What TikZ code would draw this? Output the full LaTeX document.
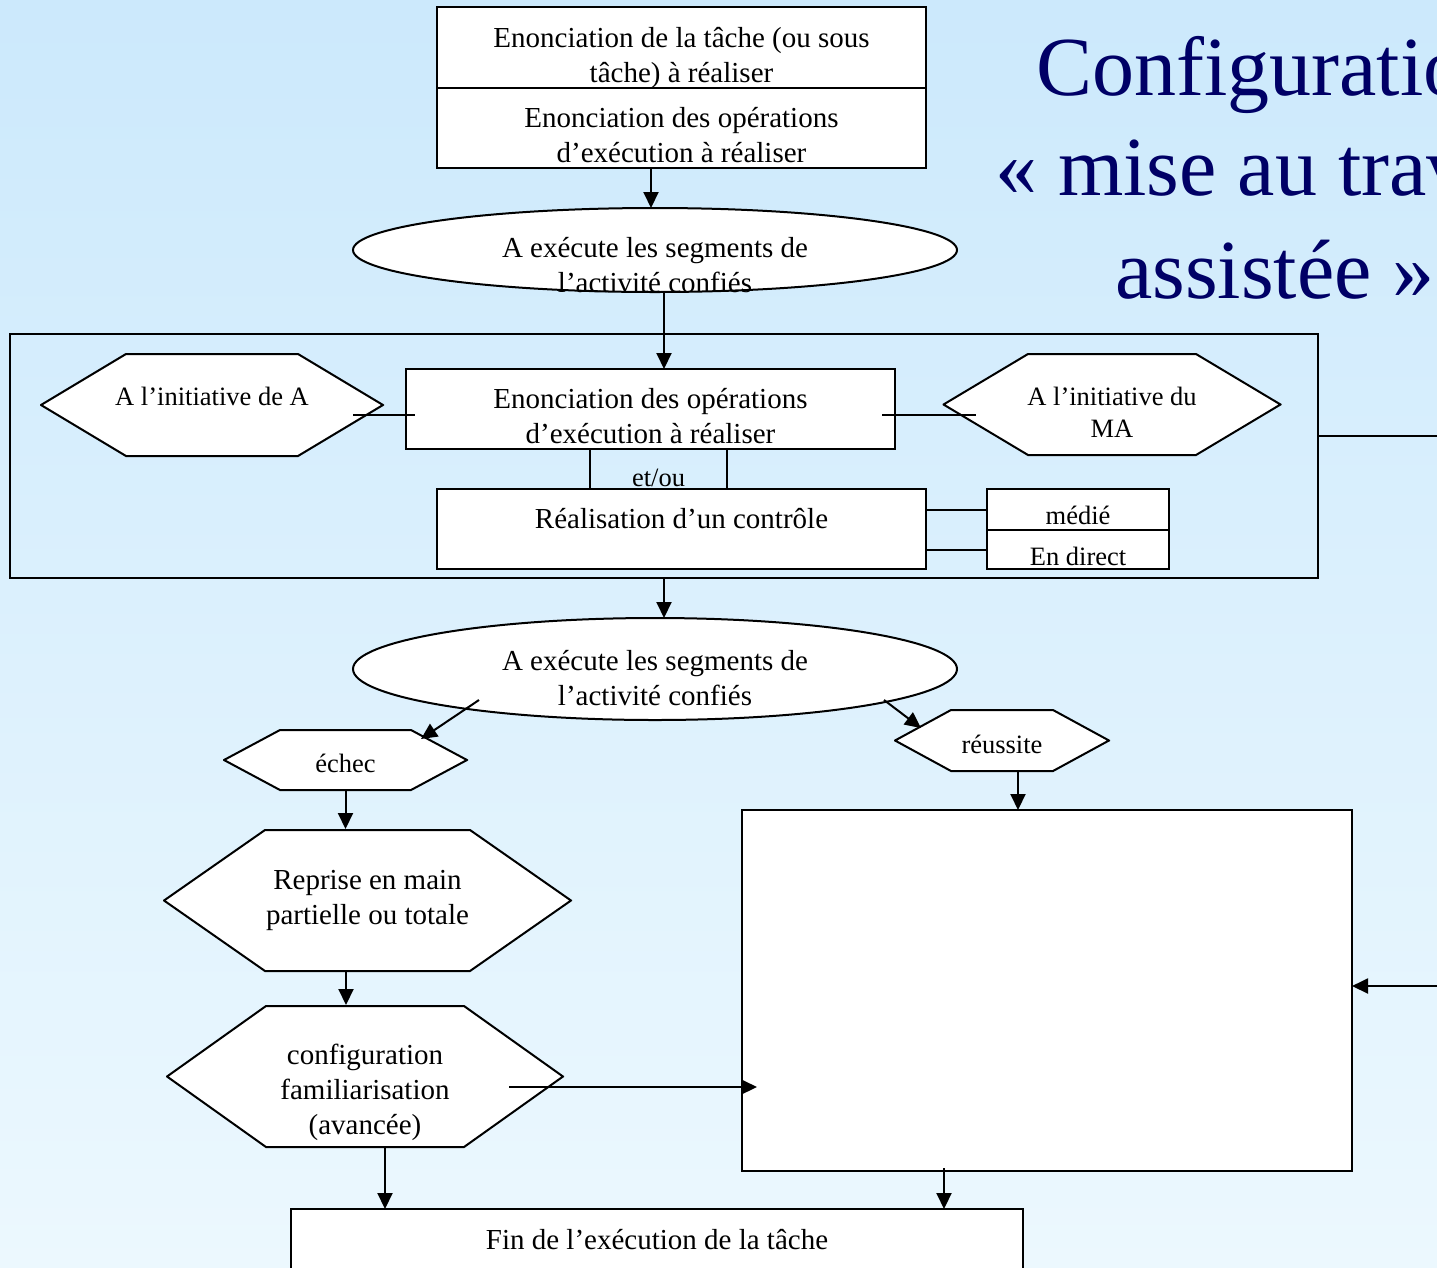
\documentclass[tikz,border=0pt]{standalone}
\usepackage{fontspec}
\setmainfont{Liberation Serif}
\usetikzlibrary{shapes.geometric, arrows.meta}

\definecolor{bgtop}{RGB}{204,233,252}
\definecolor{bgbot}{RGB}{236,248,254}
\definecolor{navy}{RGB}{0,0,102}

\newcommand{\mainsz}{\fontsize{29}{35}\selectfont}
\newcommand{\smallsz}{\fontsize{26.5}{32}\selectfont}
\newcommand{\headsz}{\fontsize{84}{100}\selectfont}
% first baseline put #1 below the node centre
\newcommand{\lowered}[2]{\raisebox{-#1pt}[0pt][0pt]{\begin{tabular}[t]{@{}c@{}}#2\end{tabular}}}

\begin{document}
\begin{tikzpicture}[
    x=1pt, y=-1pt,
    box/.style={rectangle, draw, fill=white, line width=2pt, inner sep=0pt, outer sep=0pt, font=\mainsz},
    smallbox/.style={box, font=\smallsz},
    oval/.style={ellipse, draw, fill=white, line width=2pt, inner sep=0pt, outer sep=0pt, minimum width=604, font=\mainsz},
    hexa/.style={rectangle, inner sep=0pt, outer sep=0pt, font=\smallsz,
        path picture={\draw[line width=2pt, fill=white]
            ([xshift=1pt]path picture bounding box.west) --
            ([xshift=#1, yshift=-1pt]path picture bounding box.north west) --
            ([xshift=-#1, yshift=-1pt]path picture bounding box.north east) --
            ([xshift=-1pt]path picture bounding box.east) --
            ([xshift=-#1, yshift=1pt]path picture bounding box.south east) --
            ([xshift=#1, yshift=1pt]path picture bounding box.south west) -- cycle;}},
    link/.style={line width=2pt},
    arr/.style={link, -{Triangle[length=16pt, width=15pt]}},
    heading/.style={inner sep=0pt, font=\headsz, text=navy}
]

\useasboundingbox (0,0) rectangle (1437,1267);
\clip (0,0) rectangle (1437,1267);
\shade[top color=bgtop, bottom color=bgbot] (0,0) rectangle (1437,1267);

% Title
\node[heading, anchor=base west] (headA) at (1036,95) {Configuratio};
\node[heading, anchor=base west] (headB) at (995,195) {« mise au trav};
\node[heading, anchor=base west] (headC) at (1115,298) {assistée »};

% Task statement
\node[box, minimum width=489, minimum height=81] (task) at (681.5,47.5) {\lowered{0}{Enonciation de la tâche (ou sous\\tâche) à réaliser}};
\node[box, minimum width=489, minimum height=80] (taskops) at (681.5,128) {\lowered{-1}{Enonciation des opérations\\d’exécution à réaliser}};

% First execution
\node[oval, minimum height=84] (exec1) at (655,250) {\lowered{7}{A exécute les segments de\\l’activité confiés}};

% Assistance frame
\node[rectangle, draw, line width=2pt, outer sep=0pt, minimum width=1308, minimum height=244] (frame) at (664,456) {};
\node[hexa=86pt, minimum width=344, minimum height=104] (initA) at (212,405) {\lowered{0}{A l’initiative de A}};
\node[hexa=85.5pt, minimum width=339, minimum height=103] (initMA) at (1112,404.5) {\lowered{0.5}{A l’initiative du\\MA}};
\node[box, minimum width=489, minimum height=80] (opsin) at (650.5,409) {\lowered{-1}{Enonciation des opérations\\d’exécution à réaliser}};
\node[smallbox, fill=none, minimum width=137, minimum height=40] (etou) at (658.5,469) {\lowered{17}{et/ou}};
\node[box, minimum width=489, minimum height=80] (ctrl) at (681.5,529) {\lowered{-1}{Réalisation d’un contrôle}};
\node[smallbox, minimum width=182, minimum height=41] (mediated) at (1078,509.5) {\lowered{14.5}{médié}};
\node[smallbox, minimum width=182, minimum height=39] (direct) at (1078,549.5) {\lowered{15.5}{En direct}};

% Second execution
\node[oval, minimum height=102] (exec2) at (655,669) {\lowered{1}{A exécute les segments de\\l’activité confiés}};
\node[hexa=57pt, minimum width=245, minimum height=62] (fail) at (345.5,760) {\lowered{12}{échec}};
\node[hexa=57pt, minimum width=216, minimum height=63] (success) at (1002,740.5) {\lowered{12.5}{réussite}};

% Outcomes
\node[hexa=102pt, font=\mainsz, minimum width=409, minimum height=143] (takeback) at (367.5,900.5) {\lowered{-11.5}{Reprise en main\\partielle ou totale}};
\node[hexa=100pt, font=\mainsz, minimum width=398, minimum height=143] (familiar) at (365,1076.5) {\lowered{-12.5}{configuration\\familiarisation\\(avancée)}};
\node[box, minimum width=610, minimum height=361] (big) at (1047,990.5) {};
\node[box, minimum width=732, minimum height=80] (endtask) at (657,1249) {\lowered{0}{Fin de l’exécution de la tâche}};

\coordinate (offright) at (1440,436);
\coordinate (offbig) at (1440,986);

% Connectors
\draw[arr] ([shift={(-30.5,0)}]taskops.south) -- ([shift={(-4,0)}]exec1.north);
\draw[arr] ([shift={(9,0)}]exec1.south) -- ([shift={(13.5,0)}]opsin.north);
\draw[link] ([shift={(141,10)}]initA.center) -- ([shift={(9,6)}]opsin.west);
\draw[link] ([shift={(-13,6)}]opsin.east) -- ([shift={(-136,10.5)}]initMA.center);
\draw[link] (ctrl.east |- mediated.west) -- (mediated.west);
\draw[link] (ctrl.east |- direct.west) -- (direct.west);
\draw[link] ([shift={(0,-20)}]frame.east) -- (offright);
\draw[arr] (frame.south) -- ([shift={(9,0)}]exec2.north);
\draw[arr] ([shift={(-176,31)}]exec2.center) -- ([shift={(75.5,-21)}]fail.center);
\draw[arr] ([shift={(229,31)}]exec2.center) -- ([shift={(-81,-12.5)}]success.center);
\draw[arr] (fail.south) -- (fail.south |- takeback.north);
\draw[arr] ([shift={(-21.5,0)}]takeback.south) -- ([shift={(-19,0)}]familiar.north);
\draw[arr] ([shift={(144,10.5)}]familiar.center) -- ([shift={(15,96.5)}]big.west);
\draw[arr] ([shift={(16,0)}]success.south) -- ([shift={(-29,0)}]big.north);
\draw[arr] ([shift={(20,0)}]familiar.south) -- ([shift={(-272,0)}]endtask.north);
\draw[arr] ([shift={(-103,-3)}]big.south) -- ([shift={(287,0)}]endtask.north);
\draw[arr] (offbig) -- ([shift={(0,-4.5)}]big.east);

\end{tikzpicture}
\end{document}
